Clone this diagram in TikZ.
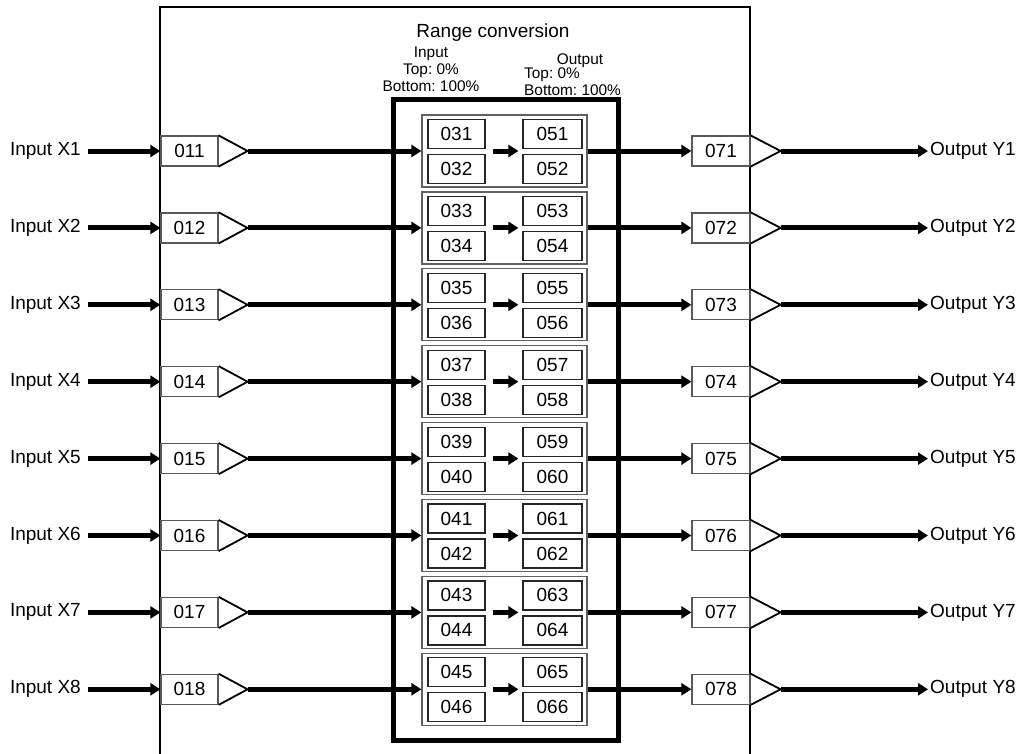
\documentclass[tikz,border=0pt]{standalone}
\usepackage{fontspec}
\setmainfont{Liberation Sans}
\usetikzlibrary{calc,arrows.meta}
\frenchspacing

\begin{document}
\begin{tikzpicture}[x=1pt,y=-1pt,
  every node/.style={font=\fontsize{19}{22}\selectfont},
  numbox/.style={draw=gray!70!black,line width=1.2pt,minimum width=57pt,minimum height=30pt,inner sep=0pt},
  cellbox/.style={draw=black!85,line width=1.2pt,minimum width=57pt,minimum height=29pt,inner sep=0pt},
  grpbox/.style={draw=gray!75!black,line width=1.2pt,minimum width=165pt,minimum height=72pt,inner sep=0pt},
  amp/.style={line width=1.8pt,line join=miter},
  fat/.style={line width=5pt,-{Triangle[length=10pt,width=12pt]}},
  note/.style={font=\fontsize{15.4}{17}\selectfont,inner sep=0pt}]
  \useasboundingbox (0,0) rectangle (1025,753);

  % outer frame, open at the bottom
  \coordinate (fbl) at (160,770);
  \coordinate (ftl) at (160,7);
  \coordinate (ftr) at (750,7);
  \coordinate (fbr) at (750,770);
  \draw[line width=2pt] (fbl) -- (ftl) -- (ftr) -- (fbr);

  % headings
  \node[anchor=base] (title) at (493,37) {Range conversion};
  \node[note,align=center,anchor=north] (inrng) at (431,47) {Input\\Top: 0\%\\Bottom: 100\%};
  \node[note,anchor=base] (outhd) at (580,64) {Output};
  \node[note,align=left,anchor=north west] (outrng) at (524,68) {Top: 0\%\\Bottom: 100\%};

  % conversion block
  \coordinate (cbl) at (393,99);
  \coordinate (cbr) at (618,740);
  \draw[line width=5pt] (cbl) rectangle (cbr);

  \foreach \i in {1,...,8}{
    \pgfmathsetmacro{\yy}{151+76.9*(\i-1)}
    \pgfmathtruncatemacro{\na}{10+\i}
    \pgfmathtruncatemacro{\nb}{29+2*\i}
    \pgfmathtruncatemacro{\nc}{30+2*\i}
    \pgfmathtruncatemacro{\nd}{49+2*\i}
    \pgfmathtruncatemacro{\ne}{50+2*\i}
    \pgfmathtruncatemacro{\nf}{70+\i}
    % input side
    \node[anchor=east,inner xsep=7pt] (lx\i) at (88,\yy) {Input X\i};
    \node[numbox] (in\i) at (189.5,\yy) {0\na};
    \coordinate (tin\i) at ($(in\i.east)+(29,0)$);
    \draw[amp] (in\i.north east) -- (tin\i) -- (in\i.south east);
    \draw[fat] (lx\i.east) -- (in\i.west);
    % range group
    \node[grpbox] (g\i) at (504.5,\yy) {};
    \node[cellbox] (a\i) at (456.5,\yy-17) {0\nb};
    \node[cellbox] (c\i) at (456.5,\yy+18) {0\nc};
    \node[cellbox,minimum width=59pt] (b\i) at (552.5,\yy-17) {0\nd};
    \node[cellbox,minimum width=59pt] (d\i) at (552.5,\yy+18) {0\ne};
    \draw[fat] ($(a\i.east)+(7,17)$) -- ($(b\i.west)+(-4,17)$);
    \draw[fat] (tin\i) -- (g\i.west);
    % output side
    \node[numbox,minimum width=58pt] (out\i) at (721,\yy) {0\nf};
    \coordinate (tout\i) at ($(out\i.east)+(30,0)$);
    \draw[amp] (out\i.north east) -- (tout\i) -- (out\i.south east);
    \draw[fat] (g\i.east) -- (out\i.west);
    \node[anchor=west,inner xsep=2pt] (ly\i) at (928,\yy) {Output Y\i};
    \draw[fat] (tout\i) -- (ly\i.west);
  }
\end{tikzpicture}
\end{document}
